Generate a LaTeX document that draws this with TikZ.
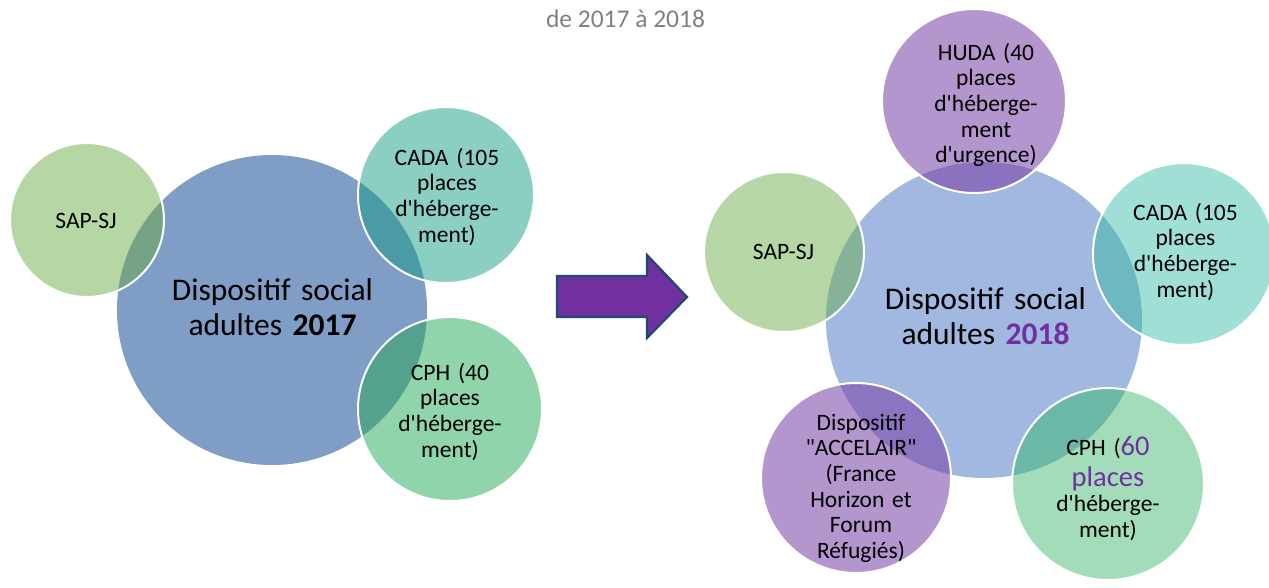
\documentclass[tikz,border=0pt]{standalone}
\usepackage{fontspec}
\setmainfont{Carlito}[Ligatures=TeXOff]
\definecolor{bigL}{RGB}{127,157,197}
\definecolor{sapL}{RGB}{182,214,164}
\definecolor{sapLo}{RGB}{118,163,133}
\definecolor{cadaL}{RGB}{138,207,193}
\definecolor{cadaLo}{RGB}{74,155,166}
\definecolor{cphL}{RGB}{143,212,170}
\definecolor{cphLo}{RGB}{84,161,142}
\definecolor{bigR}{RGB}{161,184,224}
\definecolor{sapR}{RGB}{183,214,165}
\definecolor{sapRo}{RGB}{133,178,152}
\definecolor{hudaR}{RGB}{180,150,207}
\definecolor{hudaRo}{RGB}{138,114,190}
\definecolor{cadaR}{RGB}{160,223,213}
\definecolor{cadaRo}{RGB}{110,184,194}
\definecolor{cphR}{RGB}{162,220,185}
\definecolor{cphRo}{RGB}{108,184,166}
\definecolor{accR}{RGB}{180,150,207}
\definecolor{accRo}{RGB}{139,116,192}
\definecolor{purp}{RGB}{112,48,160}
\definecolor{arrowline}{RGB}{30,75,110}
\definecolor{titlegray}{RGB}{128,128,128}
\begin{document}
\begin{tikzpicture}[x=1pt,y=-1pt,
  disc/.style={circle,inner sep=0pt,minimum size=#1,draw=none},
  ring/.style={draw=white,line width=2pt},
  lbl/.style={text width=200pt,align=center,inner sep=0pt,anchor=base,font=\fontsize{23.5}{25.7}\selectfont},
  biglbl/.style={text width=300pt,align=center,inner sep=0pt,anchor=base,font=\fontsize{31.5}{35}\selectfont}]
\useasboundingbox (0,0) rectangle (1269,587);

% title
\node[anchor=base,inner sep=0pt,text=titlegray,font=\fontsize{25.5}{30}\selectfont] (title) at (625.5,27) {de 2017 à 2018};

% ---------------- left diagram ----------------
\node[disc=310pt,fill=bigL] (bigL) at (272,310) {};
\node[disc=154pt,fill=sapL] (sapL) at (87,220) {};
\node[disc=176pt,fill=cadaL] (cadaL) at (446,195) {};
\node[disc=184pt,fill=cphL] (cphL) at (450,409) {};
\begin{scope}\clip (sapL.center) circle[radius=77];
  \fill[sapLo] (bigL.center) circle[radius=155];\end{scope}
\begin{scope}\clip (cadaL.center) circle[radius=88];
  \fill[cadaLo] (bigL.center) circle[radius=155];\end{scope}
\begin{scope}\clip (cphL.center) circle[radius=92];
  \fill[cphLo] (bigL.center) circle[radius=155];\end{scope}
\draw[ring] (sapL.center) circle[radius=77];
\draw[ring] (cadaL.center) circle[radius=88];
\draw[ring] (cphL.center) circle[radius=92];

\node[biglbl] (tbigL) at (272.5,300) {Dispositif social\\adultes \textbf{2017}};
\node[lbl] (tsapL) at (86,228) {SAP-SJ};
\node[lbl] (tcadaL) at (447,165) {CADA (105\\places\\d'héberge-\\ment)};
\node[lbl] (tcphL) at (450,380) {CPH (40\\places\\d'héberge-\\ment)};

% arrow
\draw[arrowline,fill=purp,line width=2.2pt,line join=miter]
  (557,276) -- (647,276) -- (647,255) -- (687,297) -- (647,338) -- (647,317) -- (557,317) -- cycle;

% ---------------- right diagram ----------------
\node[disc=316pt,fill=bigR] (bigR) at (984,320) {};
\node[disc=160pt,fill=sapR] (sapR) at (784,252) {};
\node[disc=184pt,fill=hudaR] (hudaR) at (974,101) {};
\node[disc=182pt,fill=cadaR] (cadaR) at (1184,254) {};
\node[disc=192pt,fill=cphR] (cphR) at (1108,484) {};
\node[disc=190pt,fill=accR] (accR) at (856,478) {};
\begin{scope}\clip (sapR.center) circle[radius=80];
  \fill[sapRo] (bigR.center) circle[radius=158];\end{scope}
\begin{scope}\clip (hudaR.center) circle[radius=92];
  \fill[hudaRo] (bigR.center) circle[radius=158];\end{scope}
\begin{scope}\clip (cadaR.center) circle[radius=91];
  \fill[cadaRo] (bigR.center) circle[radius=158];\end{scope}
\begin{scope}\clip (cphR.center) circle[radius=96];
  \fill[cphRo] (bigR.center) circle[radius=158];\end{scope}
\begin{scope}\clip (accR.center) circle[radius=95];
  \fill[accRo] (bigR.center) circle[radius=158];\end{scope}
\draw[ring] (sapR.center) circle[radius=80];
\draw[ring] (hudaR.center) circle[radius=92];
\draw[ring] (cadaR.center) circle[radius=91];
\draw[ring] (cphR.center) circle[radius=96];
\draw[ring] (accR.center) circle[radius=95];

\node[biglbl] (tbigR) at (985.5,309) {Dispositif social\\adultes \textcolor{purp}{\textbf{2018}}};
\node[lbl] (tsapR) at (783.5,259) {SAP-SJ};
\node[lbl] (thudaR) at (986,60) {HUDA (40\\places\\d'héberge-\\ment\\d'urgence)};
\node[lbl] (tcadaR) at (1185.5,220) {CADA (105\\places\\d'héberge-\\ment)};
\node[lbl] (tcphR) at (1108,455) {CPH ({\color{purp}\fontsize{28.5}{31}\selectfont 60}\\[6pt]
  {\color{purp}\fontsize{28.5}{31}\selectfont places}\\[-1pt]
  d'héberge-\\ment)};
\node[lbl] (taccR) at (861,430) {Dispositif\\"ACCELAIR"\\(France\\Horizon et\\Forum\\Réfugiés)};
\end{tikzpicture}
\end{document}
